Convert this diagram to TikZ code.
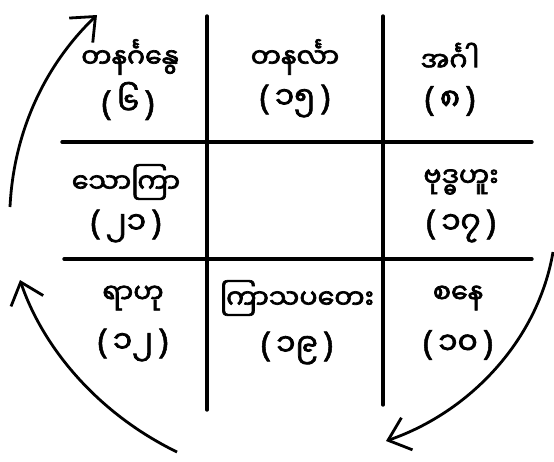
\documentclass[tikz,border=0pt]{standalone}
\usepackage{fontspec}
\newfontfamily\mmfont[Script=Myanmar,FakeBold=2.5]{Noto Sans Myanmar UI}
\newfontfamily\parfont[FakeBold=1.5]{Noto Sans}
\newcommand{\pnum}[1]{{\parfont\fontsize{34}{36}\selectfont(}\,#1\,{\parfont\fontsize{34}{36}\selectfont)}}
\usetikzlibrary{arrows.meta}
\begin{document}
\begin{tikzpicture}[x=1pt,y=-1pt,
  gridline/.style={line width=3.4pt,line cap=round},
  lbl/.style={font=\mmfont\fontsize{27}{29}\selectfont,inner sep=0pt,anchor=center},
  num/.style={font=\mmfont\fontsize{31}{33}\selectfont,inner sep=0pt,anchor=center},
  turn/.style={line width=2.8pt,-{Straight Barb[length=20pt,width=34pt,line width=2.8pt]}}]
\useasboundingbox (0,0) rectangle (554,461);
\fill[white] (0,0) rectangle (554,461);
% grid
\coordinate (v1t) at (207,16); \coordinate (v1b) at (207,410);
\coordinate (v2t) at (383,16); \coordinate (v2b) at (383,405);
\coordinate (h1l) at (62,142); \coordinate (h1r) at (532,142);
\coordinate (h2l) at (64,259); \coordinate (h2r) at (532,259);
\draw[gridline] (v1t) -- (v1b);
\draw[gridline] (v2t) -- (v2b);
\draw[gridline] (h1l) -- (h1r);
\draw[gridline] (h2l) -- (h2r);
% cells
\node[lbl] (sun) at (130,57) {တနင်္ဂနွေ};
\node[num] (sunn) at (128,101) {\pnum{၆}};
\node[lbl] (mon) at (295,57) {တနင်္လာ};
\node[num] (monn) at (295,101) {\pnum{၁၅}};
\node[lbl] (tue) at (450,57) {အင်္ဂါ};
\node[num] (tuen) at (450,101) {\pnum{၈}};
\node[lbl] (fri) at (126,182) {သောကြာ};
\node[num] (frin) at (126,226) {\pnum{၂၁}};
\node[lbl] (wed) at (461,182) {ဗုဒ္ဓဟူး};
\node[num] (wedn) at (461,226) {\pnum{၁၇}};
\node[lbl] (rah) at (133,298) {ရာဟု};
\node[num] (rahn) at (133,345) {\pnum{၁၂}};
\node[lbl] (thu) at (297,298) {ကြာသပတေး};
\node[num] (thun) at (297,348) {\pnum{၁၉}};
\node[lbl] (sat) at (458,298) {စနေ};
\node[num] (satn) at (458,345) {\pnum{၁၀}};
% arrows
\coordinate (a1s) at (10,207); \coordinate (a1e) at (97,15);
\coordinate (a2s) at (177,452); \coordinate (a2e) at (20,280);
\coordinate (a3s) at (553,252); \coordinate (a3e) at (386,441);
\draw[turn] (a1s) .. controls (14,125) and (50,60) .. (a1e);
\draw[turn] (a2s) .. controls (95,412) and (42,345) .. (a2e);
\draw[turn] (a3s) .. controls (538,340) and (470,412) .. (a3e);
\end{tikzpicture}
\end{document}
